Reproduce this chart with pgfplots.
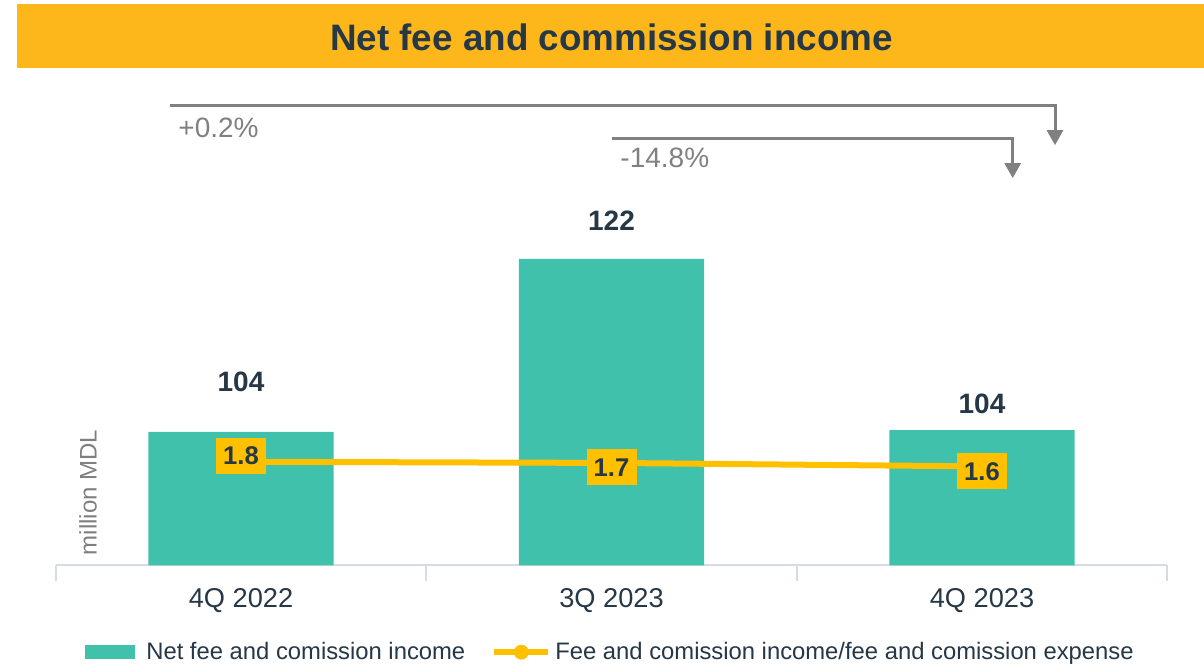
\documentclass[border=0pt]{standalone}
\usepackage{pgfplots}
\pgfplotsset{compat=1.18}
\usepackage{fontspec}
\setmainfont{Liberation Sans}
\usetikzlibrary{arrows.meta}
\definecolor{barteal}{HTML}{40C1AC}
\definecolor{titleorange}{HTML}{FDB71A}
\definecolor{lineorange}{HTML}{FFC000}
\definecolor{navy}{HTML}{263746}
\definecolor{arrowgray}{HTML}{808080}
\definecolor{axisgray}{HTML}{D5DCE4}
\definecolor{labelgray}{HTML}{7F7F7F}
\begin{document}
\begin{tikzpicture}
\begin{axis}[
  scale only axis, width=555.5pt, height=237.2pt,
  xmin=-0.5, xmax=2.5, ymin=89.8, ymax=140,
  axis x line*=bottom, axis y line=none,
  x axis line style={axisgray, line width=1pt, -},
  xtick={0,1,2}, xticklabels={4Q 2022,3Q 2023,4Q 2023},
  major tick style={draw=none},
  extra x ticks={-0.5,0.5,1.5,2.5}, extra x tick labels={},
  extra x tick style={tick align=outside, major tick length=8pt, major tick style={draw=axisgray, line width=1pt}},
  xticklabel style={font=\fontsize{13.6}{16}\selectfont, text=navy, yshift=-8pt},
  clip=false,
  legend style={at={(0.5,-0.183)}, anchor=center, draw=none, legend columns=2,
    font=\fontsize{11.9}{14}\selectfont, text=navy,
    /tikz/every even column/.append style={column sep=11pt}},
]
\addplot[ybar, bar width=0.5, fill=barteal, draw=none,
  legend image code/.code={\fill[barteal] (0pt,-3.5pt) rectangle (25pt,3.5pt); \path (28.5pt,0pt);}]
  coordinates {(0,103.9) (1,122.2) (2,104.1)};
\addlegendentry{Net fee and comission income}
\addlegendimage{legend image code/.code={\draw[lineorange, line width=3pt] (0pt,0pt) -- (27pt,0pt); \fill[lineorange] (13.5pt,0pt) circle (3.5pt);}}
\addlegendentry{Fee and comission income/fee and comission expense}
% bar value labels
\node[font=\bfseries\fontsize{14}{16}\selectfont, text=navy] at (axis cs:0,109.16) {104};
\node[font=\bfseries\fontsize{14}{16}\selectfont, text=navy] at (axis cs:1,126.2) {122};
\node[font=\bfseries\fontsize{14}{16}\selectfont, text=navy] at (axis cs:2,106.9) {104};
% y label
\node[rotate=90, font=\fontsize{12}{14}\selectfont, text=labelgray] at (axis cs:-0.413,97.5) {million MDL};
% title bar
\fill[titleorange] (axis cs:-0.6046,142.39) rectangle (axis cs:2.5992,149.17);
\node[font=\bfseries\fontsize{18.4}{22}\selectfont, text=navy] at (axis cs:1,145.67) {Net fee and commission income};
% change arrows
\draw[arrowgray, line width=1.5pt, -{Triangle[width=8pt,length=7.5pt]}]
  (axis cs:-0.1916,138.48) -- (axis cs:2.197,138.48) -- (axis cs:2.197,134.24);
\draw[arrowgray, line width=1.5pt, -{Triangle[width=8pt,length=7.5pt]}]
  (axis cs:1.0013,134.95) -- (axis cs:2.0828,134.95) -- (axis cs:2.0828,130.75);
\node[anchor=west, inner sep=0pt, font=\fontsize{14}{16}\selectfont, text=arrowgray] at (axis cs:-0.170,136.04) {+0.2\%};
\node[anchor=west, inner sep=0pt, font=\fontsize{14}{16}\selectfont, text=arrowgray] at (axis cs:1.023,132.87) {-14.8\%};
\coordinate (BL) at (axis cs:-0.6505,78.58);
\coordinate (TR) at (axis cs:2.5992,149.59);
\end{axis}
\begin{axis}[
  scale only axis, width=555.5pt, height=237.2pt,
  xmin=-0.5, xmax=2.5, ymin=0, ymax=8.16,
  hide axis, clip=false,
]
\addplot[lineorange, line width=3pt, mark=none] coordinates {(0,1.78) (1,1.76) (2,1.70)};
\node[fill=lineorange, minimum width=25pt, minimum height=17.8pt, inner sep=0pt, font=\bfseries\fontsize{12.8}{14}\selectfont, text=navy] at (axis cs:0,1.883) {1.8};
\node[fill=lineorange, minimum width=25pt, minimum height=17.8pt, inner sep=0pt, font=\bfseries\fontsize{12.8}{14}\selectfont, text=navy] at (axis cs:1,1.686) {1.7};
\node[fill=lineorange, minimum width=25pt, minimum height=17.8pt, inner sep=0pt, font=\bfseries\fontsize{12.8}{14}\selectfont, text=navy] at (axis cs:2,1.617) {1.6};
\end{axis}
\pgfresetboundingbox
\path (BL) rectangle (TR);
\end{tikzpicture}
\end{document}
